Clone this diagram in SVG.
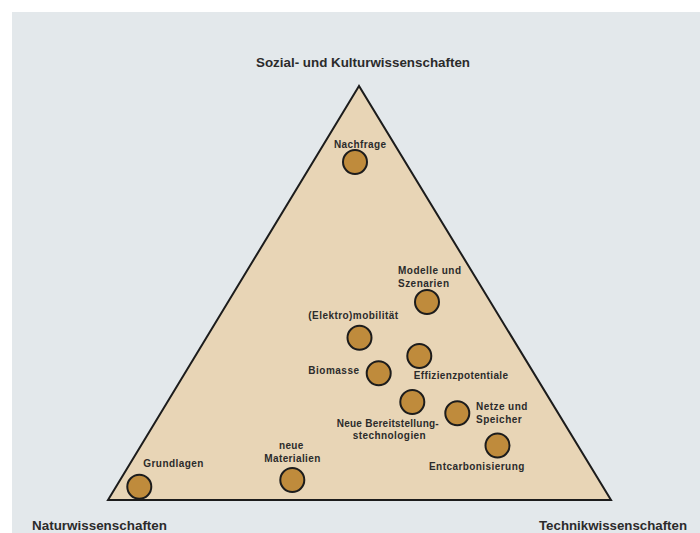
<svg xmlns="http://www.w3.org/2000/svg" width="700" height="533" viewBox="0 0 700 533">
<style>
.t{font-family:"Liberation Sans",Arial,sans-serif;font-weight:bold;fill:#2b2b2b}
.h{font-size:13.5px}
.l{font-size:10px}
.n{fill:#bf8b3c;stroke:#1c1c1c;stroke-width:2}
</style>
<rect x="0" y="0" width="700" height="533" fill="#ffffff"/>
<rect x="12" y="12" width="688" height="521" fill="#e3e8eb"/>
<g id="triangle">
<polygon points="359,86 108,500 611,500" fill="#e8d5b6" stroke="#1c1c1c" stroke-width="2" stroke-linejoin="miter"/>
</g>
<g id="axis-labels">
<text class="t h" x="256" y="67" textLength="214" lengthAdjust="spacingAndGlyphs">Sozial- und Kulturwissenschaften</text>
<text class="t h" x="32" y="530" textLength="135" lengthAdjust="spacingAndGlyphs">Naturwissenschaften</text>
<text class="t h" x="539" y="530" textLength="148" lengthAdjust="spacingAndGlyphs">Technikwissenschaften</text>
</g>
<g id="connectors"></g>
<g id="nachfrage">
<circle class="n" cx="355" cy="162" r="12"/>
<text class="t l" x="334" y="147.5" textLength="52">Nachfrage</text>
</g>
<g id="modelle">
<circle class="n" cx="427" cy="302" r="12"/>
<text class="t l" x="398" y="274" textLength="63">Modelle und</text>
<text class="t l" x="398" y="286.5" textLength="51">Szenarien</text>
</g>
<g id="elektromobilitaet">
<circle class="n" cx="359.5" cy="337.7" r="12"/>
<text class="t l" x="308.3" y="319" textLength="89.7">(Elektro)mobilität</text>
</g>
<g id="effizienz">
<circle class="n" cx="419.3" cy="356" r="12"/>
<text class="t l" x="413.7" y="379" textLength="94.3">Effizienzpotentiale</text>
</g>
<g id="biomasse">
<circle class="n" cx="378.7" cy="373.3" r="12"/>
<text class="t l" x="308.3" y="374.3" textLength="50.7">Biomasse</text>
</g>
<g id="bereitstellung">
<circle class="n" cx="412.3" cy="402" r="12"/>
<text class="t l" x="336.7" y="426.7" textLength="102">Neue Bereitstellung-</text>
<text class="t l" x="352.7" y="438.7" textLength="73">stechnologien</text>
</g>
<g id="netze">
<circle class="n" cx="457.3" cy="413.3" r="12"/>
<text class="t l" x="476" y="410" textLength="51.3">Netze und</text>
<text class="t l" x="476" y="422.7" textLength="45.7">Speicher</text>
</g>
<g id="entcarbonisierung">
<circle class="n" cx="497.5" cy="445.5" r="12"/>
<text class="t l" x="429" y="470" textLength="95.3">Entcarbonisierung</text>
</g>
<g id="grundlagen">
<circle class="n" cx="139.3" cy="486.7" r="12"/>
<text class="t l" x="143.3" y="466.7" textLength="60">Grundlagen</text>
</g>
<g id="materialien">
<circle class="n" cx="292.3" cy="480" r="12"/>
<text class="t l" x="279" y="449" textLength="24.3">neue</text>
<text class="t l" x="264.3" y="462.3" textLength="56">Materialien</text>
</g>
</svg>
